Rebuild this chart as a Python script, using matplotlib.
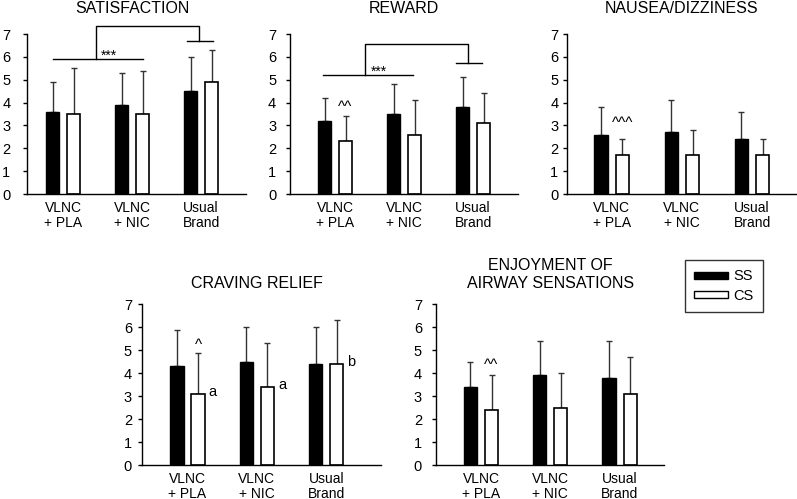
import matplotlib
matplotlib.use('Agg')
import matplotlib.pyplot as plt
from matplotlib.patches import Patch
import numpy as np

plt.rcParams['font.family'] = ['Liberation Sans', 'DejaVu Sans']

# Nhóm điều kiện
groups = ['VLNC\n+ PLA', 'VLNC\n+ NIC', 'Usual\nBrand']

# Giá trị trung bình và độ lệch (chỉ vẽ nửa trên)
sat_ss = [3.6, 3.9, 4.5]
sat_ss_sd = [1.3, 1.4, 1.5]
sat_cs = [3.5, 3.5, 4.9]
sat_cs_sd = [2.0, 1.9, 1.4]

rew_ss = [3.2, 3.5, 3.8]
rew_ss_sd = [1.0, 1.3, 1.3]
rew_cs = [2.3, 2.6, 3.1]
rew_cs_sd = [1.1, 1.5, 1.3]

nau_ss = [2.6, 2.7, 2.4]
nau_ss_sd = [1.2, 1.4, 1.2]
nau_cs = [1.7, 1.7, 1.7]
nau_cs_sd = [0.7, 1.1, 0.7]

crav_ss = [4.3, 4.5, 4.4]
crav_ss_sd = [1.6, 1.5, 1.6]
crav_cs = [3.1, 3.4, 4.4]
crav_cs_sd = [1.8, 1.9, 1.9]

enj_ss = [3.4, 3.9, 3.8]
enj_ss_sd = [1.1, 1.5, 1.6]
enj_cs = [2.4, 2.5, 3.1]
enj_cs_sd = [1.5, 1.5, 1.6]

W = 0.19
OFF = 0.152

fig = plt.figure(figsize=(7.97, 4.99), dpi=100)


def draw_panel(rect, xlim, title, ss, ss_sd, cs, cs_sd, title_y, ypad):
    ax = fig.add_axes(rect)
    x = np.arange(len(groups))
    ax.bar(x - OFF, ss, W, color='black', edgecolor='black', linewidth=1, zorder=2)
    ax.bar(x + OFF, cs, W, color='white', edgecolor='black', linewidth=1.2, zorder=2)
    ax.errorbar(x - OFF, ss, yerr=[np.zeros(3), ss_sd], fmt='none', ecolor='#333333',
                elinewidth=1, capsize=2.5, capthick=1, zorder=1)
    ax.errorbar(x + OFF, cs, yerr=[np.zeros(3), cs_sd], fmt='none', ecolor='#333333',
                elinewidth=1, capsize=2.5, capthick=1, zorder=1)
    ax.set_xlim(*xlim)
    ax.set_ylim(0, 7)
    ax.set_yticks(range(0, 8))
    ax.set_xticks(x)
    ax.set_xticklabels(groups, fontsize=10, linespacing=1.05)
    ax.tick_params(axis='x', length=0, pad=5)
    ax.tick_params(axis='y', length=3, width=1, labelsize=10.5, pad=ypad)
    for s in ['top', 'right']:
        ax.spines[s].set_visible(False)
    for s in ['left', 'bottom']:
        ax.spines[s].set_linewidth(1)
    ax.text(1, title_y, title, ha='center', va='center', fontsize=11.5,
            linespacing=1.3, clip_on=False)
    return ax


def bracket(ax, y_low, x0, x1, xv, y_top, xr, y_r, xs0, xs1, star_x, star_y):
    kw = dict(color='black', lw=1, clip_on=False)
    ax.plot([x0, x1], [y_low, y_low], **kw)
    ax.plot([xv, xv, xr, xr], [y_low, y_top, y_top, y_r], **kw)
    ax.plot([xs0, xs1], [y_r, y_r], **kw)
    ax.text(star_x, star_y, '***', ha='center', va='center', fontsize=10)


ax1 = draw_panel([0.0339, 0.6112, 0.2748, 0.3206], (-0.522, 2.652), 'SATISFACTION',
                 sat_ss, sat_ss_sd, sat_cs, sat_cs_sd, 8.1, 9)
bracket(ax1, 5.9, -0.15, 1.16, 0.48, 7.35, 1.97, 6.69, 1.8, 2.17, 0.67, 6.05)

ax2 = draw_panel([0.3639, 0.6112, 0.2861, 0.3206], (-0.652, 2.652), 'REWARD',
                 rew_ss, rew_ss_sd, rew_cs, rew_cs_sd, 8.1, 7)
bracket(ax2, 5.2, -0.17, 1.13, 0.435, 6.57, 1.93, 5.74, 1.75, 2.13, 0.635, 5.35)
ax2.text(OFF, 3.82, '^^', ha='center', va='center', fontsize=11)

ax3 = draw_panel([0.711, 0.6112, 0.29, 0.3206], (-0.64, 2.65), 'NAUSEA/DIZZINESS',
                 nau_ss, nau_ss_sd, nau_cs, nau_cs_sd, 8.1, 3)
ax3.text(OFF, 3.1, '^^^', ha='center', va='center', fontsize=11)

ax4 = draw_panel([0.1778, 0.0681, 0.3003, 0.322], (-0.66, 2.79), 'CRAVING RELIEF',
                 crav_ss, crav_ss_sd, crav_cs, crav_cs_sd, 7.91, 4)
ax4.text(OFF, 5.22, '^', ha='center', va='center', fontsize=11)
for i, lab in enumerate(['a', 'a', 'b']):
    ax4.text(i + OFF + W / 2 + 0.06, crav_cs[i] + 0.1, lab, ha='left', va='center', fontsize=10.5)

ax5 = draw_panel([0.547, 0.0681, 0.286, 0.322], (-0.65, 2.64),
                 'ENJOYMENT OF\nAIRWAY SENSATIONS',
                 enj_ss, enj_ss_sd, enj_cs, enj_cs_sd, 8.3, 7)
ax5.text(OFF, 4.35, '^^', ha='center', va='center', fontsize=11)

handles = [Patch(facecolor='black', edgecolor='black'),
           Patch(facecolor='white', edgecolor='black')]
leg = fig.legend(handles, ['SS', 'CS'], loc='upper left', bbox_to_anchor=(0.859, 0.479),
                 fontsize=10.5, frameon=True, fancybox=False, edgecolor='black',
                 handlelength=2.3, handleheight=0.4, borderpad=0.65, labelspacing=0.35,
                 handletextpad=0.4, borderaxespad=0)
leg.get_frame().set_linewidth(1)

fig.savefig('out.png', dpi=100)
